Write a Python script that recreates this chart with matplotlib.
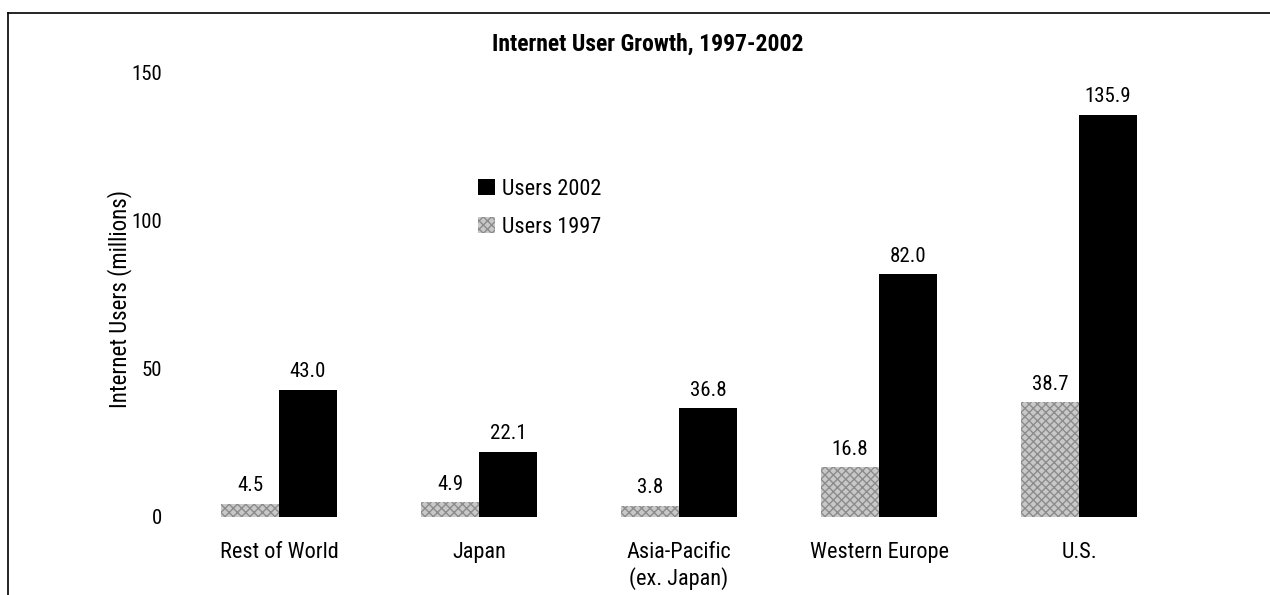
import matplotlib
matplotlib.use("Agg")
import matplotlib.pyplot as plt
from matplotlib.lines import Line2D
from matplotlib import font_manager
import numpy as np

categories = ["Rest of World", "Japan", "Asia-Pacific\n(ex. Japan)", "Western Europe", "U.S."]
users_1997 = [4.5, 4.9, 3.8, 16.8, 38.7]
users_2002 = [43.0, 22.1, 36.8, 82.0, 135.9]
yticks = [0, 50, 100, 150]

names = {f.name for f in font_manager.fontManager.ttflist}
fam = [n for n in ["Roboto Condensed", "Liberation Sans Narrow", "Liberation Sans"] if n in names] + ["DejaVu Sans"]
plt.rcParams['font.family'] = fam

W, H = 1270, 595
fig = plt.figure(figsize=(W / 100, H / 100), dpi=100)
ax = fig.add_axes([179 / W, (H - 517) / H, 1000 / W, 444 / H])

x = np.arange(len(categories))
bw = 0.29
ax.bar(x - bw / 2, users_1997, bw, facecolor="#c8c8c8", edgecolor="#8c8c8c",
       hatch="xxxx", linewidth=0, label="Users 1997")
ax.bar(x + bw / 2, users_2002, bw, color="black", linewidth=0, label="Users 2002")

for xi, v in zip(x, users_1997):
    ax.annotate(f"{v:.1f}", (xi - bw / 2, v), xytext=(0, 6), textcoords="offset points",
                ha="center", va="bottom", fontsize=15)
for xi, v in zip(x, users_2002):
    ax.annotate(f"{v:.1f}", (xi + bw / 2, v), xytext=(0, 6), textcoords="offset points",
                ha="center", va="bottom", fontsize=15)

ax.set_xlim(-0.5, 4.5)
ax.set_ylim(0, 150)
ax.set_yticks(yticks)
ax.set_yticklabels([str(t) for t in yticks], fontsize=15)
ax.set_xticks(x)
ax.set_xticklabels(categories, fontsize=16, va="top", linespacing=1.2)
ax.tick_params(axis="both", length=0)
ax.tick_params(axis="y", pad=12)
ax.tick_params(axis="x", pad=18)
for s in ax.spines.values():
    s.set_visible(False)

ax.set_ylabel("Internet Users (millions)", fontsize=16.5)
ax.yaxis.set_label_coords(-0.047, 0.49)

fig.text(648 / W, 1 - 44 / H, "Internet User Growth, 1997-2002", ha="center", va="center",
         fontsize=17, fontweight="bold")

handles, labels = ax.get_legend_handles_labels()
fig.legend(handles[::-1], labels[::-1], loc="upper left",
           bbox_to_anchor=(478 / W, 1 - 179 / H), frameon=False, fontsize=16,
           handlelength=0.75, handleheight=0.75, handletextpad=0.35, labelspacing=0.75,
           borderaxespad=0, borderpad=0)

# page frame (top and left edges visible in the scan)
fig.add_artist(Line2D([8 / W, 1.0], [1 - 13 / H, 1 - 13 / H], transform=fig.transFigure,
                      color="black", linewidth=1.2))
fig.add_artist(Line2D([8 / W, 8 / W], [0.0, 1 - 13 / H], transform=fig.transFigure,
                      color="black", linewidth=1.2))

fig.savefig("out.png", dpi=100)
